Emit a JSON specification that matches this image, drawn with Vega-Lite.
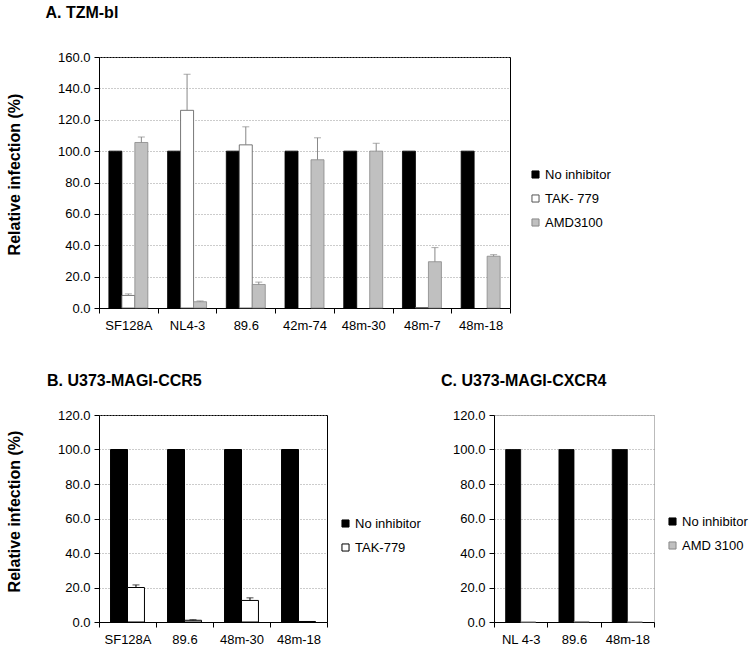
{
  "$schema": "https://vega.github.io/schema/vega-lite/v6.json",
  "background": "white",
  "padding": {"left": 5, "top": 4, "right": 0, "bottom": 0},
  "config": {
    "font": "Liberation Sans",
    "view": {"stroke": "black", "strokeWidth": 1},
    "axis": {
      "labelFont": "Liberation Sans", "labelFontSize": 13, "labelColor": "black",
      "titleFont": "Liberation Sans", "titleColor": "black",
      "domainColor": "black", "tickColor": "black", "tickSize": 5
    },
    "legend": {
      "labelFont": "Liberation Sans", "labelFontSize": 13, "labelColor": "black",
      "symbolType": "square", "symbolSize": 50, "symbolStrokeColor": "#444", "symbolStrokeWidth": 1,
      "padding": 0, "rowPadding": 10, "labelOffset": 3
    },
    "title": {"font": "Liberation Sans", "fontSize": 16, "fontWeight": "bold", "color": "black", "anchor": "start", "frame": "group", "dx": -50, "offset": 30}
  },
  "datasets": {
    "A": [
      {"strain": "SF128A", "inhibitor": "No inhibitor", "value": 100},
      {"strain": "SF128A", "inhibitor": "TAK- 779", "value": 8, "upper": 9},
      {"strain": "SF128A", "inhibitor": "AMD3100", "value": 105.5, "upper": 109},
      {"strain": "NL4-3", "inhibitor": "No inhibitor", "value": 100},
      {"strain": "NL4-3", "inhibitor": "TAK- 779", "value": 126, "upper": 149},
      {"strain": "NL4-3", "inhibitor": "AMD3100", "value": 4, "upper": 4.5},
      {"strain": "89.6", "inhibitor": "No inhibitor", "value": 100},
      {"strain": "89.6", "inhibitor": "TAK- 779", "value": 104, "upper": 115.5},
      {"strain": "89.6", "inhibitor": "AMD3100", "value": 15, "upper": 16.5},
      {"strain": "42m-74", "inhibitor": "No inhibitor", "value": 100},
      {"strain": "42m-74", "inhibitor": "AMD3100", "value": 94.5, "upper": 108.5},
      {"strain": "48m-30", "inhibitor": "No inhibitor", "value": 100},
      {"strain": "48m-30", "inhibitor": "AMD3100", "value": 100, "upper": 105},
      {"strain": "48m-7", "inhibitor": "No inhibitor", "value": 100},
      {"strain": "48m-7", "inhibitor": "TAK- 779", "value": 0.3},
      {"strain": "48m-7", "inhibitor": "AMD3100", "value": 29.5, "upper": 38.5},
      {"strain": "48m-18", "inhibitor": "No inhibitor", "value": 100},
      {"strain": "48m-18", "inhibitor": "AMD3100", "value": 33, "upper": 34}
    ],
    "B": [
      {"strain": "SF128A", "inhibitor": "No inhibitor", "value": 100},
      {"strain": "SF128A", "inhibitor": "TAK-779", "value": 20, "upper": 21.5},
      {"strain": "89.6", "inhibitor": "No inhibitor", "value": 100},
      {"strain": "89.6", "inhibitor": "TAK-779", "value": 1, "upper": 1.3},
      {"strain": "48m-30", "inhibitor": "No inhibitor", "value": 100},
      {"strain": "48m-30", "inhibitor": "TAK-779", "value": 12.5, "upper": 14},
      {"strain": "48m-18", "inhibitor": "No inhibitor", "value": 100},
      {"strain": "48m-18", "inhibitor": "TAK-779", "value": 0.3}
    ],
    "C": [
      {"strain": "NL 4-3", "inhibitor": "No inhibitor", "value": 100},
      {"strain": "NL 4-3", "inhibitor": "AMD 3100", "value": 0},
      {"strain": "89.6", "inhibitor": "No inhibitor", "value": 100},
      {"strain": "89.6", "inhibitor": "AMD 3100", "value": 0.3},
      {"strain": "48m-18", "inhibitor": "No inhibitor", "value": 100},
      {"strain": "48m-18", "inhibitor": "AMD 3100", "value": 0}
    ]
  },
  "spacing": 39,
  "resolve": {
    "scale": {"x": "independent", "xOffset": "independent", "y": "independent", "color": "independent", "stroke": "independent"},
    "axis": {"x": "independent", "y": "independent"},
    "legend": {"color": "independent", "stroke": "independent"}
  },
  "vconcat": [
    {
      "title": {"text": "A. TZM-bl", "frame": "bounds", "dx": 39},
      "width": 411, "height": 251,
      "data": {"name": "A"},
      "encoding": {
        "x": {"field": "strain", "type": "nominal", "sort": ["SF128A", "NL4-3", "89.6", "42m-74", "48m-30", "48m-7", "48m-18"],
          "scale": {"paddingInner": 0, "paddingOuter": 0},
          "axis": {"title": null, "labelAngle": 0, "tickBand": "extent", "labelPadding": 6, "grid": false}},
        "xOffset": {"field": "inhibitor", "type": "nominal", "sort": ["No inhibitor", "TAK- 779", "AMD3100"],
          "scale": {"domain": ["No inhibitor", "TAK- 779", "AMD3100"], "paddingInner": 0, "paddingOuter": 0.76}}
      },
      "layer": [
        {
          "mark": {"type": "bar", "strokeWidth": 0.8},
          "encoding": {
            "y": {"field": "value", "type": "quantitative",
              "scale": {"domain": [0, 160]},
              "axis": {"title": "Relative infection (%)", "titleFontSize": 16, "titleFontWeight": "bold", "titlePadding": 35, "titleY": 117,
                "values": [0, 20, 40, 60, 80, 100, 120, 140, 160], "format": ".1f", "labelPadding": 4, "labelOverlap": false,
                "grid": true, "gridColor": "#999", "gridDash": [1, 2], "gridWidth": 1}},
            "color": {"field": "inhibitor", "type": "nominal",
              "scale": {"domain": ["No inhibitor", "TAK- 779", "AMD3100"], "range": ["#000000", "#ffffff", "#c0c0c0"]},
              "legend": {"title": null, "orient": "none", "legendX": 430, "legendY": 111}},
            "stroke": {"field": "inhibitor", "type": "nominal",
              "scale": {"domain": ["No inhibitor", "TAK- 779", "AMD3100"], "range": ["#000000", "#555555", "#888888"]},
              "legend": null}
          }
        },
        {
          "mark": {"type": "rule", "color": "#888888", "strokeWidth": 1},
          "encoding": {
            "y": {"field": "value", "type": "quantitative",
              "axis": {"title": "Relative infection (%)", "titleFontSize": 16, "titleFontWeight": "bold", "titlePadding": 35, "titleY": 117,
                "values": [0, 20, 40, 60, 80, 100, 120, 140, 160], "format": ".1f", "labelPadding": 4, "labelOverlap": false,
                "grid": true, "gridColor": "#999", "gridDash": [1, 2], "gridWidth": 1}},
            "y2": {"field": "upper"}}
        },
        {
          "mark": {"type": "tick", "color": "#888888", "thickness": 1, "size": 7},
          "encoding": {
            "y": {"field": "upper", "type": "quantitative",
              "axis": {"title": "Relative infection (%)", "titleFontSize": 16, "titleFontWeight": "bold", "titlePadding": 35, "titleY": 117,
                "values": [0, 20, 40, 60, 80, 100, 120, 140, 160], "format": ".1f", "labelPadding": 4, "labelOverlap": false,
                "grid": true, "gridColor": "#999", "gridDash": [1, 2], "gridWidth": 1}}}
        }
      ]
    },
    {
      "spacing": 18,
      "resolve": {
        "scale": {"x": "independent", "xOffset": "independent", "y": "independent", "color": "independent", "stroke": "independent"},
        "axis": {"x": "independent", "y": "independent"},
        "legend": {"color": "independent", "stroke": "independent"}
      },
      "hconcat": [
        {
          "title": {"text": "B. U373-MAGI-CCR5", "offset": 20, "dx": -52},
          "width": 228, "height": 207,
          "data": {"name": "B"},
          "encoding": {
            "x": {"field": "strain", "type": "nominal", "sort": ["SF128A", "89.6", "48m-30", "48m-18"],
              "scale": {"paddingInner": 0, "paddingOuter": 0},
              "axis": {"title": null, "labelAngle": 0, "tickBand": "extent", "labelPadding": 6, "grid": false}},
            "xOffset": {"field": "inhibitor", "type": "nominal",
              "scale": {"domain": ["No inhibitor", "TAK-779"], "paddingInner": 0, "paddingOuter": 0.68}}
          },
          "layer": [
            {
              "mark": {"type": "bar", "strokeWidth": 1, "stroke": "#000000"},
              "encoding": {
                "y": {"field": "value", "type": "quantitative",
                  "scale": {"domain": [0, 120]},
                  "axis": {"title": "Relative infection (%)", "titleFontSize": 16, "titleFontWeight": "bold", "titlePadding": 35, "titleY": 96,
                    "values": [0, 20, 40, 60, 80, 100, 120], "format": ".1f", "labelPadding": 4, "labelOverlap": false,
                    "grid": true, "gridColor": "#999", "gridDash": [1, 2], "gridWidth": 1}},
                "color": {"field": "inhibitor", "type": "nominal",
                  "scale": {"domain": ["No inhibitor", "TAK-779"], "range": ["#000000", "#ffffff"]},
                  "legend": {"title": null, "orient": "none", "legendX": 240, "legendY": 102, "symbolStrokeColor": "#000000"}}
              }
            },
            {
              "mark": {"type": "rule", "color": "#000000", "strokeWidth": 1},
              "encoding": {
                "y": {"field": "value", "type": "quantitative",
                  "axis": {"title": "Relative infection (%)", "titleFontSize": 16, "titleFontWeight": "bold", "titlePadding": 35, "titleY": 96,
                    "values": [0, 20, 40, 60, 80, 100, 120], "format": ".1f", "labelPadding": 4, "labelOverlap": false,
                    "grid": true, "gridColor": "#999", "gridDash": [1, 2], "gridWidth": 1}},
                "y2": {"field": "upper"}}
            },
            {
              "mark": {"type": "tick", "color": "#000000", "thickness": 1, "size": 7},
              "encoding": {
                "y": {"field": "upper", "type": "quantitative",
                  "axis": {"title": "Relative infection (%)", "titleFontSize": 16, "titleFontWeight": "bold", "titlePadding": 35, "titleY": 96,
                    "values": [0, 20, 40, 60, 80, 100, 120], "format": ".1f", "labelPadding": 4, "labelOverlap": false,
                    "grid": true, "gridColor": "#999", "gridDash": [1, 2], "gridWidth": 1}}}
            }
          ]
        },
        {
          "title": {"text": "C. U373-MAGI-CXCR4", "offset": 20, "dx": -53},
          "width": 160, "height": 207,
          "view": {"stroke": "#bbbbbb"},
          "data": {"name": "C"},
          "encoding": {
            "x": {"field": "strain", "type": "nominal", "sort": ["NL 4-3", "89.6", "48m-18"],
              "scale": {"paddingInner": 0, "paddingOuter": 0},
              "axis": {"title": null, "labelAngle": 0, "tickBand": "extent", "labelPadding": 6, "grid": false}},
            "xOffset": {"field": "inhibitor", "type": "nominal",
              "scale": {"domain": ["No inhibitor", "AMD 3100"], "paddingInner": 0, "paddingOuter": 0.77}}
          },
          "layer": [
            {
              "mark": {"type": "bar", "strokeWidth": 0.8},
              "encoding": {
                "y": {"field": "value", "type": "quantitative",
                  "scale": {"domain": [0, 120]},
                  "axis": {"title": null,
                    "values": [0, 20, 40, 60, 80, 100, 120], "format": ".1f", "labelPadding": 4, "labelOverlap": false,
                    "grid": true, "gridColor": "#999", "gridDash": [1, 2], "gridWidth": 1}},
                "color": {"field": "inhibitor", "type": "nominal",
                  "scale": {"domain": ["No inhibitor", "AMD 3100"], "range": ["#000000", "#c0c0c0"]},
                  "legend": {"title": null, "orient": "none", "legendX": 172, "legendY": 100, "symbolStrokeColor": "#777777"}},
                "stroke": {"field": "inhibitor", "type": "nominal",
                  "scale": {"domain": ["No inhibitor", "AMD 3100"], "range": ["#000000", "#888888"]},
                  "legend": null}
              }
            }
          ]
        }
      ]
    }
  ]
}
